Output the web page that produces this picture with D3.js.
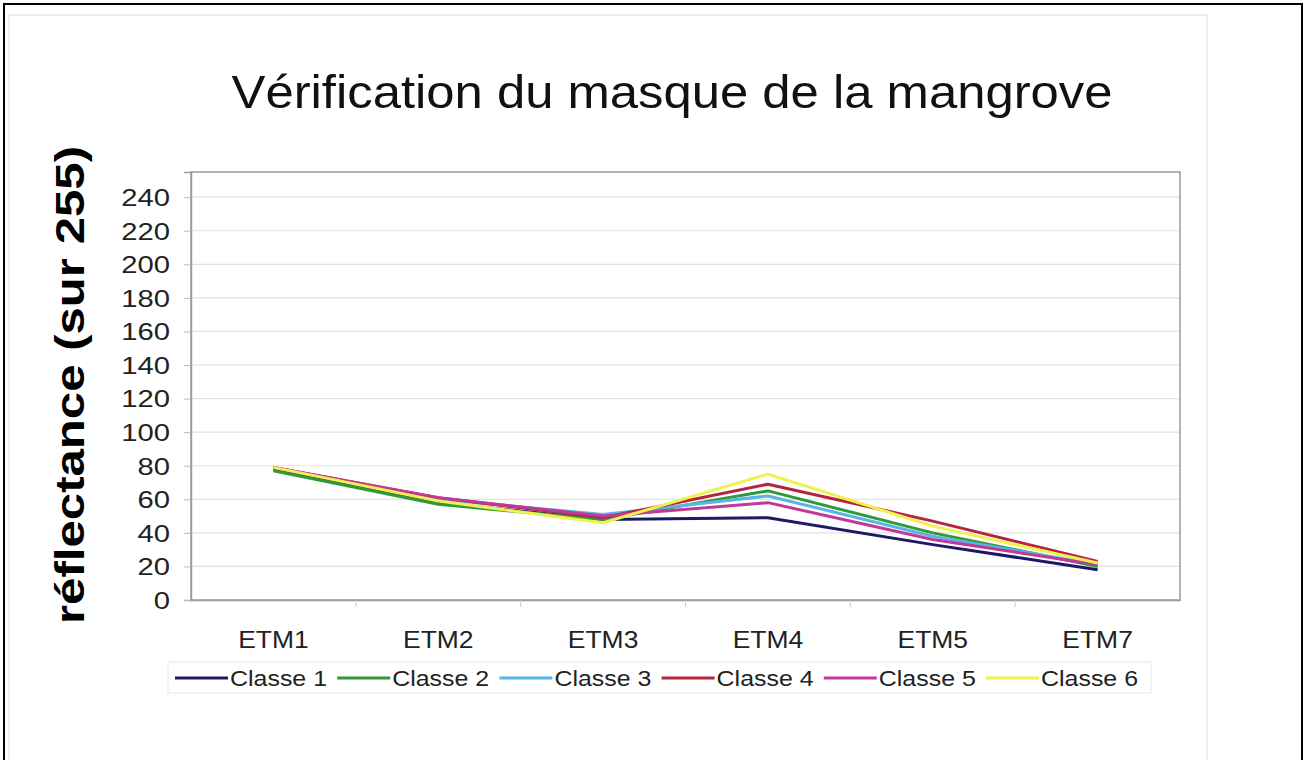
<!DOCTYPE html>
<html><head><meta charset="utf-8">
<script src="https://cdn.jsdelivr.net/npm/d3@7"></script>
<style>body{margin:0;background:#fff}svg{display:block}</style>
</head><body>
<script>
const categories = ["ETM1","ETM2","ETM3","ETM4","ETM5","ETM7"];
const seriesNames = ["Classe 1","Classe 2","Classe 3","Classe 4","Classe 5","Classe 6"];
const classe1 = [78, 58, 48, 49, 33, 18];
const classe2 = [77, 57, 48, 65, 40, 20];
const classe3 = [79, 60, 51, 62, 38, 21];
const classe4 = [79, 61, 49, 69, 47, 23];
const classe5 = [79, 61, 50, 58, 36, 21];
const classe6 = [79, 59, 46, 75, 44, 22];
const yTicks = [0,20,40,60,80,100,120,140,160,180,200,220,240];
const colors = ["#1c1a66","#2f9a3a","#5ab4e6","#b3253f","#c2379a","#f2f04e"];
const allSeries = [classe1, classe2, classe3, classe4, classe5, classe6];

const W = 1307, H = 760;
const svg = d3.select("body").append("svg").attr("width", W).attr("height", H);
const font = "Liberation Sans, Arial, sans-serif";

function widen(sel, f) {
  sel.each(function(){ const L = this.getComputedTextLength(); d3.select(this).attr("textLength", L*f).attr("lengthAdjust","spacingAndGlyphs"); });
}

// outer black frame
svg.append("rect").attr("x",4).attr("y",4).attr("width",1298).attr("height",760).attr("fill","none").attr("stroke","#000").attr("stroke-width",2);
// inner faint frame
svg.append("rect").attr("x",9).attr("y",15).attr("width",1198).attr("height",760).attr("fill","none").attr("stroke","#eeeeee").attr("stroke-width",2);

const m = {left:191, right:1180, top:172, bottom:600};
const x = d3.scaleBand().domain(categories).range([m.left, m.right]);
const y = d3.scaleLinear().domain([0,255]).range([m.bottom, m.top]);

// gridlines
svg.append("g").selectAll("line").data(yTicks.slice(1)).join("line")
  .attr("x1", m.left).attr("x2", m.right)
  .attr("y1", d=>y(d)).attr("y2", d=>y(d))
  .attr("stroke","#e2e2e2").attr("stroke-width",1.2);

// plot frame
svg.append("rect").attr("x",m.left).attr("y",m.top).attr("width",m.right-m.left).attr("height",m.bottom-m.top)
  .attr("fill","none").attr("stroke","#9a9a9a").attr("stroke-width",1.5);

// y axis
const yAxis = svg.append("g").attr("transform",`translate(${m.left},0)`)
  .call(d3.axisLeft(y).tickValues(yTicks).tickSize(7).tickPadding(14));
yAxis.select(".domain").attr("stroke","#9a9a9a").attr("stroke-width",1.5);
yAxis.selectAll(".tick line").attr("stroke","#bbbbbb");
yAxis.selectAll("text").attr("font-family",font).attr("font-size",23).attr("fill","#222").attr("dy","0.36em").call(widen, 1.27);

// x axis
const xAxis = svg.append("g").attr("transform",`translate(0,${m.bottom})`)
  .call(d3.axisBottom(x).tickSize(0).tickPadding(48));
xAxis.select(".domain").attr("stroke","#9a9a9a").attr("stroke-width",1.5);
xAxis.selectAll("text").attr("font-family",font).attr("font-size",23).attr("fill","#222").attr("dy",null).call(widen, 1.15);
// category separator ticks
svg.append("g").selectAll("line").data(categories.slice(1)).join("line")
  .attr("x1", d=>x(d)).attr("x2", d=>x(d))
  .attr("y1", m.bottom).attr("y2", m.bottom+7)
  .attr("stroke","#cccccc");

// lines
const line = d3.line().x((d,i)=>x(categories[i]) + x.bandwidth()/2).y(d=>y(d));
svg.append("g").selectAll("path").data(allSeries).join("path")
  .attr("d", d=>line(d)).attr("fill","none")
  .attr("stroke",(d,i)=>colors[i]).attr("stroke-width",3).attr("stroke-linejoin","round");

// title
svg.append("text").attr("x",672).attr("y",108).attr("text-anchor","middle")
  .attr("font-family",font).attr("font-size",46).attr("fill","#111")
  .text("Vérification du masque de la mangrove").attr("textLength",881).attr("lengthAdjust","spacingAndGlyphs");

// y title
svg.append("text").attr("transform","translate(84,385) rotate(-90)").attr("text-anchor","middle")
  .attr("font-family",font).attr("font-size",41).attr("font-weight","bold").attr("fill","#000")
  .text("réflectance (sur 255)").attr("textLength",478).attr("lengthAdjust","spacingAndGlyphs");

// legend
svg.append("rect").attr("x",168).attr("y",662).attr("width",983).attr("height",31)
  .attr("fill","none").attr("stroke","#eeeeee").attr("stroke-width",1.5);
const leg = svg.append("g").selectAll("g").data(seriesNames).join("g")
  .attr("transform",(d,i)=>`translate(${175 + i*162.2},678)`);
leg.append("line").attr("x1",0).attr("x2",53).attr("y1",0).attr("y2",0)
  .attr("stroke",(d,i)=>colors[i]).attr("stroke-width",3);
leg.append("text").attr("x",55).attr("y",8).attr("font-family",font).attr("font-size",22).attr("fill","#222").text(d=>d)
  .attr("textLength",97).attr("lengthAdjust","spacingAndGlyphs");
</script>
</body></html>
